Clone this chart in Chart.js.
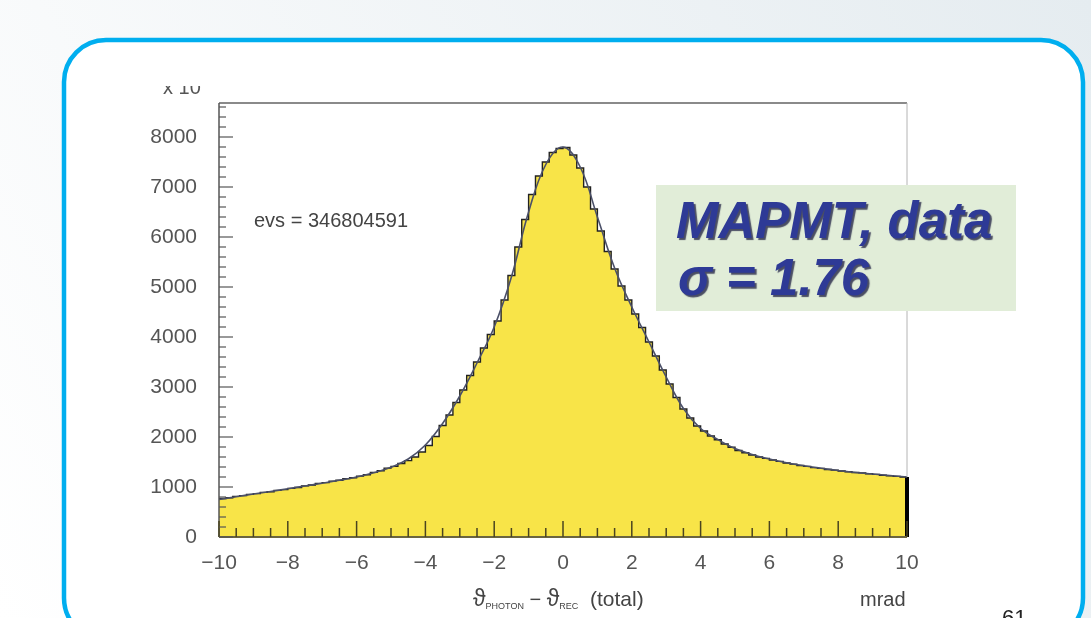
<!DOCTYPE html>
<html>
<head>
<meta charset="utf-8">
<script src="https://cdn.jsdelivr.net/npm/chart.js@4/dist/chart.umd.min.js"></script>
<style>
  html, body { margin: 0; padding: 0; background: #fff; }
  canvas { display: block; }
</style>
</head>
<body>
<canvas id="chart" width="1091" height="618"></canvas>
<script>
/* ------------------------------------------------ */
// histogram: 100 bins of 0.2 mrad from -10 to 10
const binLow = -10;
const binWidth = 0.2;
const counts = [
  770, 785, 812, 828, 852, 868, 893, 905, 932, 948,
  972, 990, 1022, 1040, 1073, 1088, 1118, 1136, 1168, 1186,
  1218, 1246, 1292, 1326, 1378, 1412, 1470, 1528, 1600, 1700,
  1830, 2010, 2230, 2440, 2690, 2940, 3230, 3500, 3780, 4050,
  4320, 4740, 5230, 5800, 6350, 6850, 7220, 7500, 7690, 7770,
  7790, 7640, 7380, 7000, 6560, 6120, 5710, 5360, 5020, 4740,
  4460, 4190, 3900, 3620, 3340, 3060, 2790, 2560, 2380, 2220,
  2120, 2020, 1945, 1860, 1795, 1730, 1685, 1640, 1600, 1572,
  1540, 1512, 1480, 1458, 1430, 1412, 1388, 1372, 1350, 1338,
  1320, 1306, 1290, 1282, 1265, 1252, 1236, 1226, 1212, 1200
];

// fitted curve
const fitX = [
  -10, -9.5, -9, -8.5, -8, -7.5, -7, -6.5, -6, -5.5, -5, -4.5, -4, -3.5, -3, -2.5, -2, -1.5, -1, -0.5,
  0, 0.5, 1, 1.5, 2, 2.5, 3, 3.5, 4, 4.5, 5, 5.5, 6, 6.5, 7, 7.5, 8, 8.5, 9, 9.5, 10
];
const fitY = [
  750, 805, 860, 910, 965, 1020, 1075, 1135, 1200, 1285, 1395, 1560, 1840, 2270, 2820, 3480, 4200, 5200, 6500, 7450,
  7800, 7400, 6400, 5380, 4600, 3900, 3200, 2570, 2170, 1950, 1770, 1650, 1560, 1485, 1425, 1375, 1330, 1290, 1260, 1230, 1200
];

const xTicks = [-10, -8, -6, -4, -2, 0, 2, 4, 6, 8, 10];
const yTicks = [0, 1000, 2000, 3000, 4000, 5000, 6000, 7000, 8000];
const yMax = 8680;

const FONT = 'Liberation Sans, Arial, sans-serif';

/* ------------------------------------------------ */

function histPoints() {
  let pts = counts.map((c, i) => ({ x: binLow + i * binWidth, y: c }));
  let end = binLow + counts.length * binWidth;
  pts.push({ x: end, y: counts[counts.length - 1] });
  pts.push({ x: end, y: 0 });
  return pts;
}

/* ------------------------------------------------ */

const decor = {
  id: 'decor',
  beforeDraw(chart) {
    let ctx = chart.ctx;
    let g = ctx.createLinearGradient(0, 618, 1091, 0);
    g.addColorStop(0, '#ffffff');
    g.addColorStop(1, '#e5ecf0');
    ctx.save();
    ctx.fillStyle = g;
    ctx.fillRect(0, 0, 1091, 618);

    // rounded frame
    ctx.beginPath();
    ctx.roundRect(64, 40, 1019, 600, 42);
    ctx.fillStyle = '#ffffff';
    ctx.fill();
    ctx.lineWidth = 4.5;
    ctx.strokeStyle = '#00aeef';
    ctx.stroke();
    ctx.restore();
  },

  afterDatasetsDraw(chart) {
    let ctx = chart.ctx;
    let a = chart.chartArea;
    let xs = chart.scales.x;
    let ys = chart.scales.y;
    ctx.save();

    // frame
    ctx.strokeStyle = '#8a8a8a';
    ctx.lineWidth = 2;
    ctx.beginPath(); ctx.moveTo(a.left, a.top); ctx.lineTo(a.right, a.top); ctx.stroke();
    ctx.strokeStyle = '#b4b4b4';
    ctx.lineWidth = 1;
    ctx.beginPath(); ctx.moveTo(a.right, a.top); ctx.lineTo(a.right, ys.getPixelForValue(counts[counts.length - 1])); ctx.stroke();
    ctx.strokeStyle = '#555';
    ctx.lineWidth = 1.5;
    ctx.beginPath(); ctx.moveTo(a.left, a.top); ctx.lineTo(a.left, a.bottom); ctx.stroke();
    ctx.strokeStyle = '#6b6540';
    ctx.lineWidth = 2;
    ctx.beginPath(); ctx.moveTo(a.left, a.bottom); ctx.lineTo(a.right, a.bottom); ctx.stroke();

    // inner ticks, x
    ctx.strokeStyle = '#4a4420';
    ctx.lineWidth = 1.5;
    for (let k = 0; k <= 40; k++) {
      let v = -10 + k * 0.5;
      let px = xs.getPixelForValue(v);
      let len = (k % 4 == 0) ? 16 : 9;
      ctx.beginPath(); ctx.moveTo(px, a.bottom); ctx.lineTo(px, a.bottom - len); ctx.stroke();
    }
    // inner ticks, y
    ctx.strokeStyle = '#555';
    ctx.lineWidth = 1.2;
    for (let v = 0; v <= 8600; v += 200) {
      let py = ys.getPixelForValue(v);
      let len = (v % 1000 == 0) ? 14 : 7;
      ctx.beginPath(); ctx.moveTo(a.left, py); ctx.lineTo(a.left + len, py); ctx.stroke();
    }
    ctx.restore();
  },

  afterDraw(chart) {
    let ctx = chart.ctx;
    ctx.save();

    // exponent label, cut at the top like the original
    ctx.save();
    ctx.beginPath();
    ctx.rect(150, 86, 80, 10);
    ctx.clip();
    ctx.fillStyle = '#555';
    ctx.font = '20px ' + FONT;
    ctx.textBaseline = 'alphabetic';
    ctx.fillText('x 10', 163, 94);
    ctx.restore();

    ctx.fillStyle = '#444';
    ctx.font = '20px ' + FONT;
    ctx.textBaseline = 'middle';
    ctx.fillText('evs = 346804591', 254, 221);

    // axis title
    let x = 473;
    let base = 606;
    ctx.textBaseline = 'alphabetic';
    ctx.fillStyle = '#444';
    let parts = [
      { t: '\u03D1', f: '23px ', dy: 0 },
      { t: 'PHOTON', f: '9px ', dy: 3 },
      { t: ' \u2212 ', f: '20px ', dy: 0 },
      { t: '\u03D1', f: '23px ', dy: 0 },
      { t: 'REC', f: '9px ', dy: 3 },
      { t: '  (total)', f: '21px ', dy: 0 },
    ];
    parts.forEach((p) => {
      ctx.font = p.f + FONT;
      ctx.fillText(p.t, x, base + p.dy);
      x += ctx.measureText(p.t).width;
    });
    ctx.font = '20px ' + FONT;
    ctx.fillText('mrad', 860, base);

    ctx.fillStyle = '#222';
    ctx.font = '22px ' + FONT;
    ctx.fillText('61', 1002, 625);

    // label box
    ctx.fillStyle = '#e1edd8';
    ctx.fillRect(656, 185, 360, 126);
    ctx.font = 'italic bold 51px ' + FONT;
    ctx.fillStyle = '#2e3a96';
    ctx.shadowColor = 'rgba(10, 10, 50, 0.7)';
    ctx.shadowOffsetX = 2;
    ctx.shadowOffsetY = 2;
    ctx.shadowBlur = 1;
    ctx.fillText('MAPMT, data', 676, 238);
    ctx.fillText('\u03C3 = 1.76', 678, 295);
    ctx.restore();
  }
};

/* ------------------------------------------------ */

function generateChart() {
  let ctx = document.getElementById('chart').getContext('2d');
  let lastIdx = counts.length + 1;
  let config = {
    type: 'line',
    data: {
      datasets: [
        {
          label: 'fit',
          data: fitX.map((v, i) => ({ x: v, y: fitY[i] })),
          borderColor: '#4b5068',
          borderWidth: 1.6,
          pointRadius: 0,
          tension: 0.4,
          fill: false,
          order: 0,
        },
        {
          label: 'data',
          data: histPoints(),
          stepped: 'before',
          borderColor: '#222',
          borderWidth: 1.4,
          segment: {
            borderWidth: (c) => (c.p1DataIndex == lastIdx ? 4 : 1.4),
            borderColor: (c) => (c.p1DataIndex == lastIdx ? '#000' : '#222'),
          },
          backgroundColor: '#f8e448',
          pointRadius: 0,
          fill: 'origin',
          order: 1,
          clip: 4,
        },
      ],
    },
    options: {
      responsive: false,
      animation: false,
      devicePixelRatio: 1,
      layout: { padding: { left: 0, top: 103, right: 184, bottom: 0 } },
      plugins: {
        legend: { display: false },
        tooltip: { enabled: false },
      },
      scales: {
        x: {
          type: 'linear',
          min: -10,
          max: 10,
          grid: { display: false },
          border: { display: false },
          afterBuildTicks: (scale) => { scale.ticks = xTicks.map((v) => ({ value: v })); },
          afterFit: (scale) => { scale.height = 81; },
          ticks: {
            padding: 6,
            color: '#555',
            font: { family: FONT, size: 21 },
            maxRotation: 0,
            callback: (v) => (v < 0 ? '\u2212' + Math.abs(v) : '' + v),
          },
        },
        y: {
          type: 'linear',
          min: 0,
          max: yMax,
          grid: { display: false },
          border: { display: false },
          afterBuildTicks: (scale) => { scale.ticks = yTicks.map((v) => ({ value: v })); },
          afterFit: (scale) => { scale.width = 219; },
          ticks: {
            padding: 14,
            color: '#555',
            font: { family: FONT, size: 21 },
            callback: (v) => '' + v,
          },
        },
      },
    },
    plugins: [decor],
  };
  return new Chart(ctx, config);
}

let chart = generateChart();
</script>
</body>
</html>
